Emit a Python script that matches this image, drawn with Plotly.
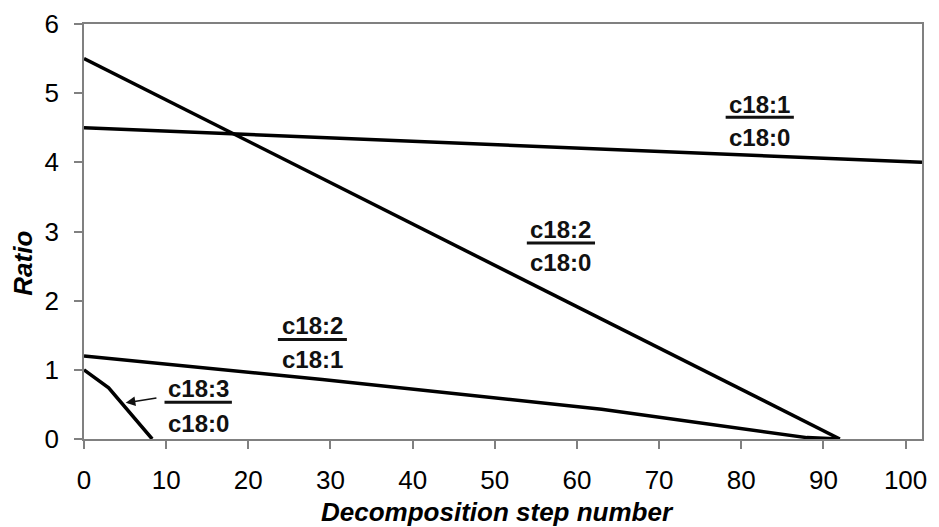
import plotly.graph_objects as go

# Data
step_181_180 = [0, 102]
ratio_181_180 = [4.5, 4.0]

step_182_180 = [0, 92]
ratio_182_180 = [5.5, 0.0]

step_182_181 = [0, 29, 63, 79, 88, 92]
ratio_182_181 = [1.2, 0.86, 0.43, 0.17, 0.02, 0.0]

step_183_180 = [0, 3, 8.3]
ratio_183_180 = [1.0, 0.74, 0.0]

x_ticks = [0, 10, 20, 30, 40, 50, 60, 70, 80, 90, 100]
y_ticks = [0, 1, 2, 3, 4, 5, 6]

series = [
    (step_181_180, ratio_181_180),
    (step_182_180, ratio_182_180),
    (step_182_181, ratio_182_181),
    (step_183_180, ratio_183_180),
]

fig = go.Figure()
for xs, ys in series:
    fig.add_trace(go.Scatter(x=xs, y=ys, mode="lines",
                             line=dict(color="black", width=3.5),
                             showlegend=False, hoverinfo="skip"))

FONT = "Liberation Sans, Arial, sans-serif"
lab_font = dict(family=FONT, size=24, color="#111111")

# plot area in window pixels (page has an 8px body margin)
PL, PR, PT, PB = 84.3, 921.7, 24.5, 439.5

# fraction labels: (numerator, denominator, x_center, y_num, y_bar, y_den, x0, x1)
fractions = [
    ("c18:1", "c18:0", 82.2, 4.83, 4.65, 4.36, 78.1, 86.4),
    ("c18:2", "c18:0", 58.0, 3.03, 2.835, 2.55, 53.9, 62.2),
    ("c18:2", "c18:1", 27.8, 1.64, 1.44, 1.15, 23.6, 32.0),
    ("c18:3", "c18:0", 13.9, 0.725, 0.53, 0.23, 9.8, 18.0),
]
annotations = []
shapes = []
for num, den, xc, yn, yb, yd, x0, x1 in fractions:
    annotations.append(dict(x=xc, y=yn, xref="x", yref="y", text="<b>%s</b>" % num,
                            showarrow=False, font=lab_font, xanchor="center", yanchor="middle"))
    annotations.append(dict(x=xc, y=yd, xref="x", yref="y", text="<b>%s</b>" % den,
                            showarrow=False, font=lab_font, xanchor="center", yanchor="middle"))
    shapes.append(dict(type="line", xref="x", yref="y", x0=x0, x1=x1, y0=yb, y1=yb,
                       line=dict(color="#111111", width=3)))

# arrow for c18:3 label
annotations.append(dict(x=5.08, y=0.523, ax=9.0, ay=0.595, xref="x", yref="y",
                        axref="x", ayref="y", text="", showarrow=True,
                        arrowhead=2, arrowsize=1.2, arrowwidth=1.6, arrowcolor="#111111"))

# axis titles
annotations.append(dict(xref="paper", yref="paper",
                        x=(23 - PL) / (PR - PL), y=(PB - 263.5) / (PB - PT),
                        text="<b><i>Ratio</i></b>", textangle=-90, showarrow=False,
                        font=dict(family=FONT, size=26, color="black"),
                        xanchor="center", yanchor="middle"))
annotations.append(dict(xref="paper", yref="paper",
                        x=(497.5 - PL) / (PR - PL), y=(PB - 512) / (PB - PT),
                        text="<b><i>Decomposition step number</i></b>", showarrow=False,
                        font=dict(family=FONT, size=26, color="black"),
                        xanchor="center", yanchor="middle"))

axis_common = dict(showline=True, linecolor="#808080", linewidth=1.5, mirror=True,
                   ticks="outside", ticklen=8, tickwidth=1.5, tickcolor="#808080",
                   showgrid=False, zeroline=False, automargin=False,
                   tickfont=dict(family=FONT, size=26, color="black"))

fig.update_layout(
    width=931, height=519,
    margin=dict(l=76, r=17, t=16, b=88),
    paper_bgcolor="white", plot_bgcolor="white",
    xaxis=dict(range=[0, 102], tickvals=x_ticks, ticklabelstandoff=9, **axis_common),
    yaxis=dict(range=[0, 6], tickvals=y_ticks, ticklabelstandoff=10, **axis_common),
    annotations=annotations, shapes=shapes,
)

fig.write_html("out.html")
